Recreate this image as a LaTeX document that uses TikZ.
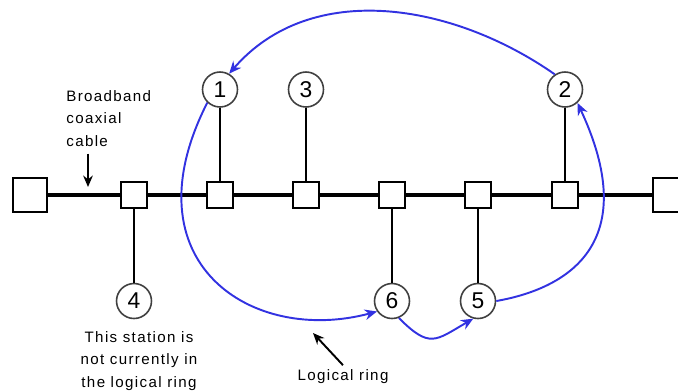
\documentclass[tikz,border=0pt]{standalone}
\usepackage{fontspec}
\setmainfont{Liberation Sans}[LetterSpace=9]
\usetikzlibrary{arrows.meta}
\definecolor{ringblue}{RGB}{50,50,225}

\begin{document}
\begin{tikzpicture}[x=0.02cm, y=0.02cm,
    endbox/.style={draw, fill=white, line width=0.8pt, minimum size=0.68cm, inner sep=0pt},
    tapbox/.style={draw, fill=white, line width=0.7pt, minimum size=0.52cm, inner sep=0pt},
    station/.style={circle, draw=black!75, line width=0.9pt, fill=white, minimum size=0.7cm,
        inner sep=0pt, font=\fontsize{13}{13}\selectfont},
    stub/.style={line width=0.7pt},
    ring/.style={ringblue, line width=1.1pt, -{Stealth[length=7pt, width=6pt]}},
    pointer/.style={line width=1.1pt, -{Stealth[length=6.5pt, width=5.5pt]}},
    notetext/.style={font=\fontsize{8.6}{12.75}\selectfont, inner sep=0pt}]
% Canvas
\clip (0,0) rectangle (678,-390);

% Parameters
\def\busy{-195}
\def\upy{-89.5}
\def\downy{-301}

% Terminators and the bus
\node[endbox] (lend) at (30,\busy) {};
\node[endbox] (rend) at (670,\busy) {};
\draw[line width=2pt] (lend) -- (rend);

% Taps with their stations
\foreach \x/\n/\sy in {134/4/\downy, 220/1/\upy, 306/3/\upy, 392/6/\downy, 478/5/\downy, 565/2/\upy} {
    \node[tapbox] (tap\n) at (\x,\busy) {};
    \node[station] (st\n) at (\x,\sy) {\n};
    \draw[stub] (tap\n) -- (st\n);
}

% Logical ring
\draw[ring] (st2.124) to[out=145, in=49, distance=71pt] (st1.60);
\draw[ring] (st1.226) to[out=243, in=195, out distance=102pt, in distance=74pt] (st6.215);
\draw[ring] (st6.-68) to[out=-45, in=210, distance=25pt] (st5.-105);
\draw[ring] (st5.0) to[out=10, in=-65, out distance=45pt, in distance=85pt] (st2.-47);

% Labels
\node[notetext, anchor=north west, align=left] (cablelabel) at (66,-90) {Broadband\\coaxial\\cable};
\coordinate (cabletip) at (88,-187);
\draw[pointer, shorten <=4pt] (cabletip |- cablelabel.south) -- (cabletip);

\node[notetext, anchor=north, align=center] (note4) at (139,-331) {This station is\\not currently in\\the logical ring};

\node[notetext, anchor=base, inner sep=2pt] (ringlabel) at (343,-380) {Logical ring};
\coordinate (ringtip) at (313,-333);
\draw[pointer] (ringlabel.north) -- (ringtip);
\end{tikzpicture}
\end{document}
